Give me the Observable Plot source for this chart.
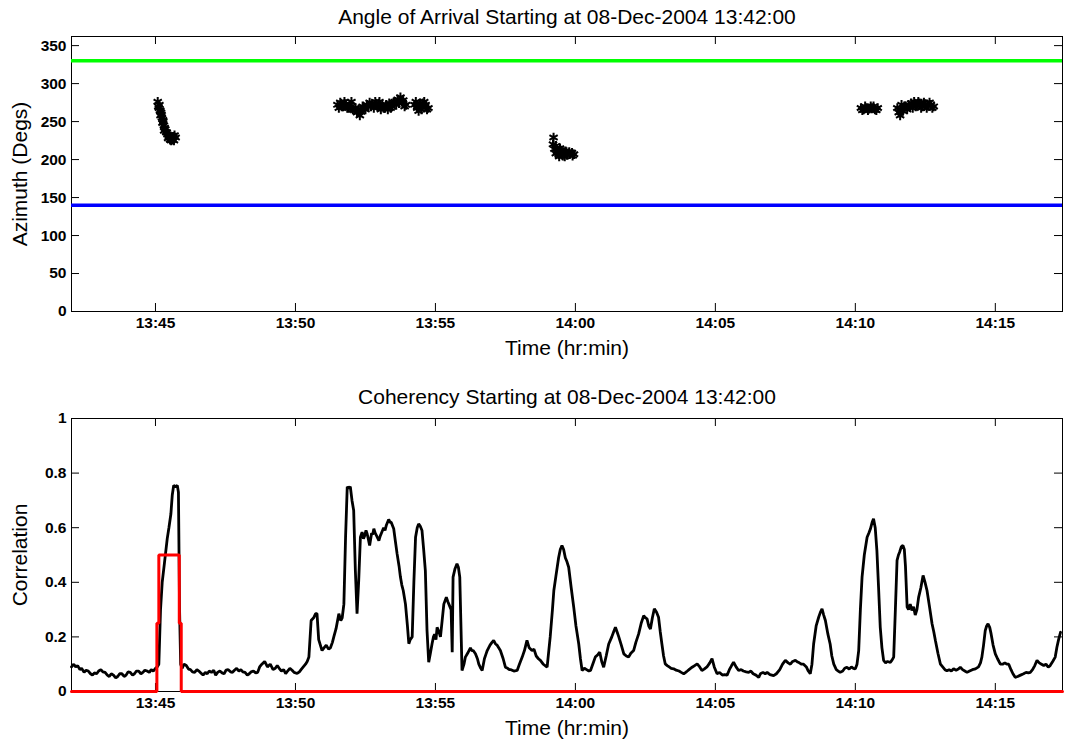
<!DOCTYPE html>
<html>
<head>
<meta charset="utf-8">
<script src="https://cdn.jsdelivr.net/npm/d3@7"></script>
<script src="https://cdn.jsdelivr.net/npm/@observablehq/plot@0.6"></script>
<style>
  html, body { margin: 0; padding: 0; background: #fff; }
  #chart svg { display: block; }
  #chart { width: 1066px; }
</style>
</head>
<body>
<div id="chart"></div>
<script>
// ---------- data ----------
const titleTop = "Angle of Arrival Starting at 08-Dec-2004 13:42:00";
const titleBottom = "Coherency Starting at 08-Dec-2004 13:42:00";
const xLabel = "Time (hr:min)";
const yLabelTop = "Azimuth (Degs)";
const yLabelBottom = "Correlation";

// time axis in minutes after 13:42:00
const xDomain = [0, 35.4];
const xTickVals = [3, 8, 13, 18, 23, 28, 33];
const xTickLabels = ["13:45", "13:50", "13:55", "14:00", "14:05", "14:10", "14:15"];

const aziDomain = [0, 362];
const aziTicks = [0, 50, 100, 150, 200, 250, 300, 350];
const corrTicks = [0, 0.2, 0.4, 0.6, 0.8, 1];

const greenAzimuth = 330;
const blueAzimuth = 140;

// angle-of-arrival detections (minutes, degrees)
const aoaMin = [
  3.08, 3.14, 3.12, 3.17, 3.2, 3.18, 3.23, 3.27, 3.25, 3.3, 3.33, 3.31, 3.38, 3.43, 3.48, 3.53, 3.58, 3.45, 3.63, 3.52, 3.72, 3.66,
  3.1, 3.16, 3.22, 3.28, 3.35, 3.4, 3.5, 3.56, 3.62, 3.68,
  9.5, 9.6, 9.7, 9.8, 9.9, 10.0, 10.1, 10.2, 10.3, 10.35, 10.45, 10.55, 10.65, 10.75, 10.85, 10.95, 11.05, 11.15, 11.25, 11.35, 11.45, 11.55, 11.65, 11.75, 11.85, 11.95, 12.25, 12.35, 12.45, 12.55, 12.65, 12.75, 12.4, 12.6, 10.0, 10.4, 11.0, 11.3,
  9.55, 9.65, 9.75, 9.85, 9.95, 10.05, 10.15, 10.25, 10.5, 10.6, 10.7, 10.8, 10.9, 11.1, 11.2, 11.4, 11.5, 11.6, 11.7, 11.8, 11.9, 12.3, 12.5, 12.7, 12.35, 12.55,
  17.22, 17.2, 17.25, 17.3, 17.35, 17.4, 17.5, 17.55, 17.6, 17.7, 17.8, 17.9, 17.45, 17.65, 17.95, 17.3,
  17.38, 17.48, 17.58, 17.68, 17.78, 17.88, 17.42, 17.62,
  28.2, 28.3, 28.4, 28.5, 28.6, 28.7, 28.8, 28.35, 28.55, 28.75, 28.25, 28.45, 28.65,
  29.5, 29.55, 29.6, 29.7, 29.75, 29.85, 29.9, 30.0, 30.1, 30.2, 30.3, 30.4, 30.5, 30.6, 30.7, 30.8, 29.65, 30.05,
  29.8, 29.95, 30.15, 30.25, 30.35, 30.45, 30.55, 30.65, 30.75, 29.62
];
const aoaAz = [
  276, 272, 268, 265, 262, 258, 255, 252, 248, 245, 242, 238, 236, 233, 230, 229, 228, 228, 230, 226, 229, 225,
  270, 264, 259, 250, 240, 236, 232, 225, 226, 232,
  272, 275, 270, 273, 268, 270, 265, 262, 258, 263, 268, 272, 275, 273, 276, 270, 266, 268, 272, 274, 270, 276, 279, 282, 278, 272, 272, 268, 274, 270, 272, 268, 264, 276, 276, 270, 276, 266,
  268, 270, 276, 268, 272, 266, 268, 266, 266, 270, 270, 268, 272, 272, 268, 268, 275, 272, 274, 276, 270, 276, 266, 266, 270, 274,
  229, 220, 214, 218, 210, 207, 212, 205, 208, 206, 207, 205, 215, 211, 207, 208,
  212, 208, 210, 210, 210, 209, 204, 204,
  268, 266, 268, 267, 268, 266, 268, 270, 270, 265, 265, 265, 270,
  268, 262, 258, 264, 270, 266, 272, 274, 276, 272, 274, 270, 273, 271, 272, 270, 272, 268,
  270, 270, 270, 276, 268, 275, 268, 275, 268, 266
];

// coherency trace (minutes, correlation)
const corrMin = [
  0.0, 0.08, 0.15, 0.22, 0.3, 0.36, 0.45, 0.52, 0.6, 0.68, 0.75, 0.82, 0.9, 0.97, 1.05, 1.12, 1.2, 1.28, 1.35, 1.42, 1.5, 1.58, 1.65, 1.72, 1.8, 1.88, 1.95, 2.02, 2.1, 2.18, 2.25, 2.32, 2.4, 2.48, 2.55, 2.62, 2.7, 2.78, 2.85, 2.92, 3.0, 3.06, 3.12,
  3.18, 3.24, 3.32, 3.42, 3.48, 3.55, 3.6, 3.65, 3.72, 3.78, 3.82, 3.86, 3.9, 3.95,
  4.02, 4.1, 4.18, 4.25, 4.32, 4.4, 4.48, 4.55, 4.62, 4.7, 4.78, 4.85, 4.92, 5.0, 5.08, 5.15, 5.22, 5.3, 5.38, 5.45, 5.52, 5.6, 5.68, 5.75, 5.82, 5.9, 5.98, 6.05, 6.12, 6.2, 6.28, 6.35, 6.42, 6.5, 6.58, 6.65, 6.72, 6.8, 6.9, 7.0, 7.05, 7.1, 7.2, 7.28, 7.35, 7.42, 7.5, 7.58, 7.65, 7.72, 7.8, 7.88, 7.95, 8.06, 8.14, 8.2, 8.28, 8.36, 8.42, 8.48,
  8.56, 8.65, 8.72, 8.77, 8.83, 8.95, 9.02, 9.1, 9.18, 9.25, 9.32, 9.37, 9.45, 9.55, 9.62, 9.67, 9.73, 9.79, 9.85, 9.9, 9.96, 10.02, 10.08, 10.14, 10.2, 10.26, 10.32, 10.38, 10.43, 10.47, 10.52, 10.56, 10.6, 10.65, 10.72, 10.76, 10.8, 10.85, 10.9, 10.98, 11.03, 11.07, 11.15, 11.2, 11.25, 11.33, 11.38, 11.42, 11.51, 11.57, 11.63, 11.7, 11.75, 11.8, 11.85, 11.93, 12.0, 12.05, 12.1, 12.17, 12.23, 12.29, 12.35, 12.4, 12.46, 12.52, 12.58, 12.64, 12.7, 12.76, 12.82, 12.88, 12.93, 12.97, 13.02, 13.06, 13.12, 13.18, 13.24, 13.3, 13.39, 13.44, 13.48, 13.56, 13.6, 13.63, 13.7, 13.77, 13.82, 13.87, 13.95,
  14.02, 14.07, 14.15, 14.25, 14.3, 14.35, 14.43, 14.5, 14.55, 14.62, 14.67, 14.75, 14.8, 14.85, 14.95, 15.02, 15.08, 15.14, 15.2, 15.26, 15.32, 15.42, 15.5, 15.58, 15.64, 15.7, 15.8, 15.92, 16.0, 16.1, 16.18, 16.27, 16.35, 16.45, 16.52, 16.6, 16.68, 16.75, 16.85, 16.92, 16.99,
  17.1, 17.18, 17.23, 17.3, 17.4, 17.46, 17.52, 17.58, 17.64, 17.7, 17.76, 17.85, 17.94, 18.02, 18.12, 18.18, 18.24, 18.32, 18.4, 18.48, 18.54, 18.62, 18.71, 18.8, 18.87, 18.94, 19.01, 19.1, 19.19, 19.3, 19.37, 19.43, 19.5, 19.55, 19.64, 19.73, 19.82, 19.9, 19.98, 20.08, 20.16, 20.26, 20.35, 20.44, 20.5, 20.56, 20.62, 20.68, 20.75, 20.82, 20.9, 20.97, 21.03, 21.09, 21.15, 21.21, 21.28, 21.35, 21.42, 21.51, 21.6, 21.7, 21.78, 21.87, 21.94, 22.0, 22.08, 22.17, 22.26, 22.35, 22.44, 22.52, 22.6, 22.7, 22.8, 22.88, 22.96, 23.06, 23.15, 23.25, 23.33, 23.42, 23.5, 23.58, 23.65, 23.74, 23.83, 23.92, 24.0, 24.1, 24.19, 24.27, 24.35, 24.45, 24.55,
  24.61, 24.7, 24.78, 24.85, 24.95, 25.08, 25.18, 25.3, 25.4, 25.5, 25.6, 25.68, 25.76, 25.86, 25.94, 26.0, 26.08, 26.15, 26.25, 26.32, 26.39, 26.45, 26.51, 26.6, 26.69, 26.75, 26.81, 26.87, 26.93, 27.02, 27.1, 27.16, 27.23, 27.32, 27.39, 27.46, 27.55, 27.62, 27.7, 27.78, 27.86, 27.93, 28.0, 28.06, 28.12, 28.18, 28.24, 28.32, 28.42, 28.48, 28.54, 28.6, 28.65, 28.71, 28.77, 28.83, 28.89, 28.95, 29.01, 29.08, 29.15, 29.25, 29.31, 29.37, 29.43, 29.49, 29.54, 29.58, 29.64, 29.7, 29.75, 29.79, 29.85, 29.9, 29.96, 30.02, 30.08, 30.14, 30.2, 30.26, 30.34, 30.42, 30.49, 30.56, 30.65, 30.74, 30.8, 30.86, 30.95, 31.04, 31.12, 31.2, 31.27, 31.35, 31.43, 31.51, 31.6, 31.68, 31.75, 31.83, 31.91, 31.99, 32.08, 32.18, 32.29, 32.4, 32.47, 32.52, 32.58, 32.64, 32.69, 32.74, 32.8, 32.85, 32.92, 33.0, 33.08, 33.18, 33.26, 33.34, 33.41, 33.48, 33.56, 33.63, 33.71, 33.8, 33.9, 34.01, 34.1, 34.18, 34.25, 34.33, 34.41, 34.49, 34.57, 34.65, 34.73, 34.81, 34.89, 34.96, 35.05, 35.14, 35.2, 35.26, 35.33, 35.4
];
const corrVal = [
  0.09, 0.1, 0.09, 0.095, 0.08, 0.085, 0.07, 0.078, 0.075, 0.065, 0.06, 0.068, 0.065, 0.075, 0.08, 0.072, 0.07, 0.06, 0.055, 0.065, 0.06, 0.05, 0.055, 0.065, 0.065, 0.055, 0.06, 0.072, 0.07, 0.06, 0.065, 0.075, 0.075, 0.065, 0.07, 0.078, 0.075, 0.07, 0.08, 0.075, 0.085, 0.09, 0.1,
  0.3, 0.4, 0.47, 0.56, 0.6, 0.65, 0.72, 0.755, 0.75, 0.755, 0.73, 0.3, 0.1, 0.085,
  0.1, 0.095, 0.082, 0.08, 0.072, 0.07, 0.08, 0.075, 0.068, 0.06, 0.07, 0.065, 0.075, 0.07, 0.078, 0.06, 0.07, 0.075, 0.068, 0.065, 0.078, 0.08, 0.072, 0.07, 0.078, 0.085, 0.075, 0.08, 0.072, 0.07, 0.06, 0.065, 0.072, 0.075, 0.068, 0.07, 0.09, 0.1, 0.11, 0.09, 0.095, 0.1, 0.08, 0.085, 0.095, 0.085, 0.075, 0.08, 0.065, 0.075, 0.085, 0.078, 0.07, 0.066, 0.072, 0.08, 0.09, 0.1, 0.11, 0.126,
  0.26, 0.27, 0.285, 0.285, 0.19, 0.15, 0.16, 0.17, 0.155, 0.16, 0.18, 0.2, 0.23, 0.285, 0.26, 0.27, 0.32, 0.565, 0.75, 0.745, 0.75, 0.7, 0.663, 0.443, 0.285, 0.407, 0.565, 0.584, 0.56, 0.57, 0.59, 0.578, 0.56, 0.535, 0.58, 0.575, 0.596, 0.58, 0.57, 0.553, 0.57, 0.58, 0.6, 0.59, 0.61, 0.63, 0.62, 0.62, 0.596, 0.55, 0.505, 0.46, 0.419, 0.39, 0.37, 0.32, 0.24, 0.175, 0.19, 0.2, 0.4, 0.565, 0.6, 0.614, 0.605, 0.59, 0.52, 0.443, 0.223, 0.107, 0.14, 0.175, 0.2, 0.21, 0.19, 0.235, 0.22, 0.2, 0.26, 0.32, 0.345, 0.33, 0.32, 0.3, 0.144, 0.419, 0.45, 0.468, 0.455, 0.419, 0.077,
  0.1, 0.126, 0.14, 0.16, 0.15, 0.15, 0.138, 0.12, 0.1, 0.085, 0.077, 0.12, 0.135, 0.15, 0.17, 0.18, 0.187, 0.175, 0.17, 0.16, 0.15, 0.12, 0.089, 0.085, 0.08, 0.08, 0.075, 0.077, 0.1, 0.126, 0.15, 0.187, 0.16, 0.15, 0.155, 0.13, 0.12, 0.114, 0.1, 0.095, 0.089,
  0.2, 0.3, 0.37, 0.42, 0.49, 0.52, 0.535, 0.52, 0.49, 0.475, 0.455, 0.38, 0.309, 0.24, 0.174, 0.12, 0.077, 0.085, 0.08, 0.075, 0.077, 0.1, 0.126, 0.135, 0.144, 0.11, 0.089, 0.13, 0.174, 0.2, 0.22, 0.235, 0.215, 0.2, 0.17, 0.138, 0.13, 0.126, 0.14, 0.15, 0.18, 0.211, 0.25, 0.278, 0.27, 0.266, 0.24, 0.229, 0.27, 0.303, 0.29, 0.272, 0.22, 0.174, 0.13, 0.101, 0.095, 0.09, 0.085, 0.083, 0.078, 0.075, 0.07, 0.065, 0.07, 0.075, 0.082, 0.089, 0.095, 0.101, 0.09, 0.077, 0.082, 0.09, 0.105, 0.12, 0.09, 0.065, 0.07, 0.06, 0.062, 0.06, 0.08, 0.095, 0.107, 0.09, 0.077, 0.08, 0.075, 0.072, 0.07, 0.075, 0.065, 0.06, 0.052,
  0.065, 0.07, 0.065, 0.07, 0.062, 0.058, 0.065, 0.08, 0.1, 0.114, 0.105, 0.1, 0.11, 0.114, 0.108, 0.105, 0.1, 0.1, 0.09, 0.075, 0.065, 0.1, 0.174, 0.24, 0.272, 0.29, 0.303, 0.28, 0.26, 0.21, 0.174, 0.13, 0.1, 0.08, 0.075, 0.07, 0.075, 0.085, 0.089, 0.082, 0.09, 0.085, 0.083, 0.1, 0.15, 0.3, 0.419, 0.5, 0.565, 0.58, 0.596, 0.62, 0.633, 0.6, 0.516, 0.38, 0.235, 0.16, 0.114, 0.105, 0.11, 0.107, 0.115, 0.126, 0.3, 0.48, 0.5, 0.51, 0.53, 0.535, 0.52, 0.46, 0.309, 0.3, 0.32, 0.297, 0.31, 0.28, 0.3, 0.345, 0.38, 0.425, 0.4, 0.37, 0.31, 0.248, 0.22, 0.187, 0.14, 0.1, 0.09, 0.08, 0.076, 0.08, 0.075, 0.083, 0.078, 0.082, 0.089, 0.08, 0.075, 0.07, 0.075, 0.08, 0.083, 0.09, 0.105, 0.126, 0.17, 0.223, 0.24, 0.248, 0.235, 0.211, 0.17, 0.138, 0.12, 0.1, 0.1, 0.105, 0.1, 0.1, 0.08, 0.065, 0.052, 0.055, 0.06, 0.065, 0.07, 0.068, 0.07, 0.08, 0.095, 0.114, 0.105, 0.1, 0.095, 0.1, 0.089, 0.095, 0.11, 0.126, 0.162, 0.19, 0.217
];

// detection window (red step trace)
const redMin = [0, 3.05, 3.05, 3.12, 3.12, 3.85, 3.85, 3.92, 3.92, 35.4];
const redVal = [0, 0, 0.25, 0.25, 0.5, 0.5, 0.25, 0.25, 0, 0];

// ---------- drawing ----------
const FONT = "'Liberation Sans', Arial, Helvetica, sans-serif";
const TICK_PX = 8;
const PLOT_W = 1066, ML = 71, MR = 4;
const innerW = PLOT_W - ML - MR;
const xTickLen = (xDomain[1] - xDomain[0]) * TICK_PX / innerW;
const fmtX = d => xTickLabels[xTickVals.indexOf(d)];
const fmtY = d => String(+d.toFixed(2));
const LABEL_PX = 21;

function framedMarks(yDomain, yTicks, innerH, yLabel, title, titleDy) {
  const yTickLen = (yDomain[1] - yDomain[0]) * TICK_PX / innerH;
  return [
    Plot.frame({stroke: "#000", strokeWidth: 1}),
    Plot.ruleX(xTickVals, {x: d => d, y1: yDomain[0], y2: yDomain[0] + yTickLen, stroke: "#000"}),
    Plot.ruleX(xTickVals, {x: d => d, y1: yDomain[1], y2: yDomain[1] - yTickLen, stroke: "#000"}),
    Plot.ruleY(yTicks, {y: d => d, x1: xDomain[0], x2: xDomain[0] + xTickLen, stroke: "#000"}),
    Plot.ruleY(yTicks, {y: d => d, x1: xDomain[1], x2: xDomain[1] - xTickLen, stroke: "#000"}),
    Plot.axisX(xTickVals, {tickSize: 0, tickPadding: 5, tickFormat: fmtX, fontSize: 15.5, fontWeight: "bold", label: null, fill: "#000"}),
    Plot.axisY(yTicks, {tickSize: 0, tickPadding: 5, tickFormat: fmtY, fontSize: 15.5, fontWeight: "bold", label: null, fill: "#000"}),
    Plot.text([xLabel], {text: d => d, frameAnchor: "bottom", lineAnchor: "middle", textAnchor: "middle", dy: 37, fontSize: LABEL_PX, fill: "#000"}),
    Plot.text([yLabel], {text: d => d, frameAnchor: "left", lineAnchor: "middle", textAnchor: "middle", rotate: -90, dx: -51, fontSize: LABEL_PX, fill: "#000"}),
    Plot.text([title], {text: d => d, frameAnchor: "top", lineAnchor: "middle", textAnchor: "middle", dy: titleDy, fontSize: LABEL_PX, fill: "#000"})
  ];
}

const aoaIdx = d3.range(aoaMin.length);
const topPlot = Plot.plot({
  width: PLOT_W, height: 375,
  marginLeft: ML, marginRight: MR, marginTop: 36, marginBottom: 64,
  style: {fontFamily: FONT, background: "#fff", color: "#000", overflow: "visible"},
  x: {domain: xDomain},
  y: {domain: aziDomain},
  marks: [
    ...framedMarks(aziDomain, aziTicks, 375 - 36 - 64, yLabelTop, titleTop, -19),
    Plot.ruleY([greenAzimuth], {stroke: "#00ff00", strokeWidth: 3.5}),
    Plot.ruleY([blueAzimuth], {stroke: "#0000ff", strokeWidth: 3.5}),
    Plot.dot(aoaIdx, {x: i => aoaMin[i], y: i => aoaAz[i], symbol: "asterisk", r: 4.5, stroke: "#000", strokeWidth: 2})
  ]
});

const corrIdx = d3.range(corrMin.length);
const redIdx = d3.range(redMin.length);
const bottomPlot = Plot.plot({
  width: PLOT_W, height: 370,
  marginLeft: ML, marginRight: MR, marginTop: 43, marginBottom: 54,
  style: {fontFamily: FONT, background: "#fff", color: "#000", overflow: "visible"},
  x: {domain: xDomain},
  y: {domain: [0, 1]},
  marks: [
    ...framedMarks([0, 1], corrTicks, 370 - 43 - 54, yLabelBottom, titleBottom, -21),
    Plot.line(corrIdx, {x: i => corrMin[i], y: i => corrVal[i], stroke: "#000", strokeWidth: 2.8, strokeLinejoin: "miter"}),
    Plot.line(redIdx, {x: i => redMin[i], y: i => redVal[i], stroke: "#ff0000", strokeWidth: 3, strokeLinejoin: "miter"})
  ]
});

const chart = document.getElementById("chart");
chart.appendChild(topPlot);
chart.appendChild(bottomPlot);
</script>
</body>
</html>
